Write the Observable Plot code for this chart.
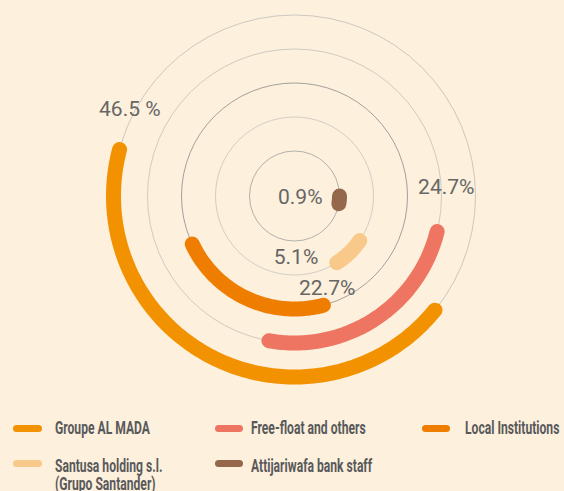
<!DOCTYPE html>
<html><head><meta charset="utf-8">
<script src="https://cdn.jsdelivr.net/npm/d3@7"></script>
<script src="https://cdn.jsdelivr.net/npm/@observablehq/plot@0.6"></script>
<style>
html,body{margin:0;padding:0;background:#fdf0dc;}
#chart{width:564px;height:491px;position:relative;overflow:hidden;background:#fdf0dc;}
#chart svg{position:absolute;left:0;top:0;background:transparent;}
.lg{position:absolute;font-family:Roboto,"DejaVu Sans Condensed",sans-serif;font-weight:700;font-size:17.5px;color:#58595b;line-height:18.5px;white-space:nowrap;transform-origin:0 0;}
.sw{position:absolute;width:28.5px;height:7px;border-radius:3.5px;}
</style></head><body><div id="chart"></div>
<script>
// ---- data ----
const categories = ["Groupe AL MADA", "Free-float and others", "Local Institutions", "Santusa holding s.l. (Grupo Santander)", "Attijariwafa bank staff"];
const values = [46.5, 24.7, 22.7, 5.1, 0.9];
const valueLabels = ["46.5 %", "24.7%", "22.7%", "5.1%", "0.9%"];
const legendLabels = [["Groupe AL MADA"], ["Free-float and others"], ["Local Institutions"], ["Santusa holding s.l.", "(Grupo Santander)"], ["Attijariwafa bank staff"]];
const colors = ["#f39200", "#ee7562", "#ef7d00", "#f9c98b", "#95674b"];

// ---- layout ----
const W = 564, H = 400, CX = 294, CY = 195.5;
const ringMid = [207, 147, 205, 136, 95];           // arc mid-angle, degrees clockwise from top
const labelPolar = [[297.7, 186], [86.8, 152], [160.5, 98], [178.6, 61.5], [105, 6]]; // [angle, radius]
const ringStroke = ["#cdc8c0", "#d0cbc3", "#a3a09c", "#d3cec6", "#b3b0ab"];

const angle = d3.scaleLinear([0, 100], [7, 327]);
const radius = d3.scalePoint(categories, [181, 45]);
const rad = a => a * Math.PI / 180;

const arcs = categories.flatMap((c, i) => {
  const span = angle(values[i]);
  const a0 = ringMid[i] - span / 2;
  const n = Math.max(2, Math.ceil(span) + 1);
  const r = radius(c);
  return d3.range(n).map(j => {
    const a = rad(a0 + span * j / (n - 1));
    return {category: c, x: r * Math.sin(a), y: r * Math.cos(a)};
  });
});

const rings = categories.map((c, i) => ({r: radius(c), stroke: ringStroke[i]}));

const labels = categories.map((c, i) => {
  const [a, r] = labelPolar[i];
  return {text: valueLabels[i], x: r * Math.sin(rad(a)), y: r * Math.cos(rad(a))};
});

const chart = Plot.plot({
  width: W, height: H,
  margin: 0,
  x: {domain: [-CX, W - CX], axis: null},
  y: {domain: [-(H - CY), CY], axis: null},
  r: {type: "identity"},
  color: {domain: categories, range: colors},
  style: {background: "transparent"},
  marks: [
    ...rings.map(d => Plot.dot([d], {x: 0, y: 0, r: "r", fill: "none", stroke: d.stroke, strokeWidth: 1})),
    Plot.line(arcs, {x: "x", y: "y", z: "category", stroke: "category", strokeWidth: 15, strokeLinecap: "round", strokeLinejoin: "round"}),
    Plot.text(labels, {x: "x", y: "y", text: "text", fontSize: 21, fill: "#666", fontFamily: "Roboto, 'Noto Sans', sans-serif", fontWeight: 400})
  ]
});
const root = document.getElementById("chart");
root.appendChild(chart);

// ---- legend ----
// [swatchX, swatchTop, textX, textTop]
const legendPos = [[13.3, 425, 55, 419], [214.7, 425, 251, 419], [421.5, 425, 465, 419], [13.3, 460, 55, 456.5], [214.7, 460, 251, 456.5]];
let sx = 1;
categories.forEach((c, i) => {
  const [x, sy, tx, ty] = legendPos[i];
  const sw = document.createElement("div");
  sw.className = "sw";
  sw.style.left = x + "px"; sw.style.top = sy + "px"; sw.style.background = colors[i];
  root.appendChild(sw);
  const t = document.createElement("div");
  t.className = "lg";
  t.style.left = tx + "px"; t.style.top = ty + "px";
  t.innerHTML = legendLabels[i].join("<br>");
  root.appendChild(t);
  if (i === 0) sx = 95 / t.getBoundingClientRect().width;
  t.style.transform = `scaleX(${sx})`;
});
</script></body></html>
